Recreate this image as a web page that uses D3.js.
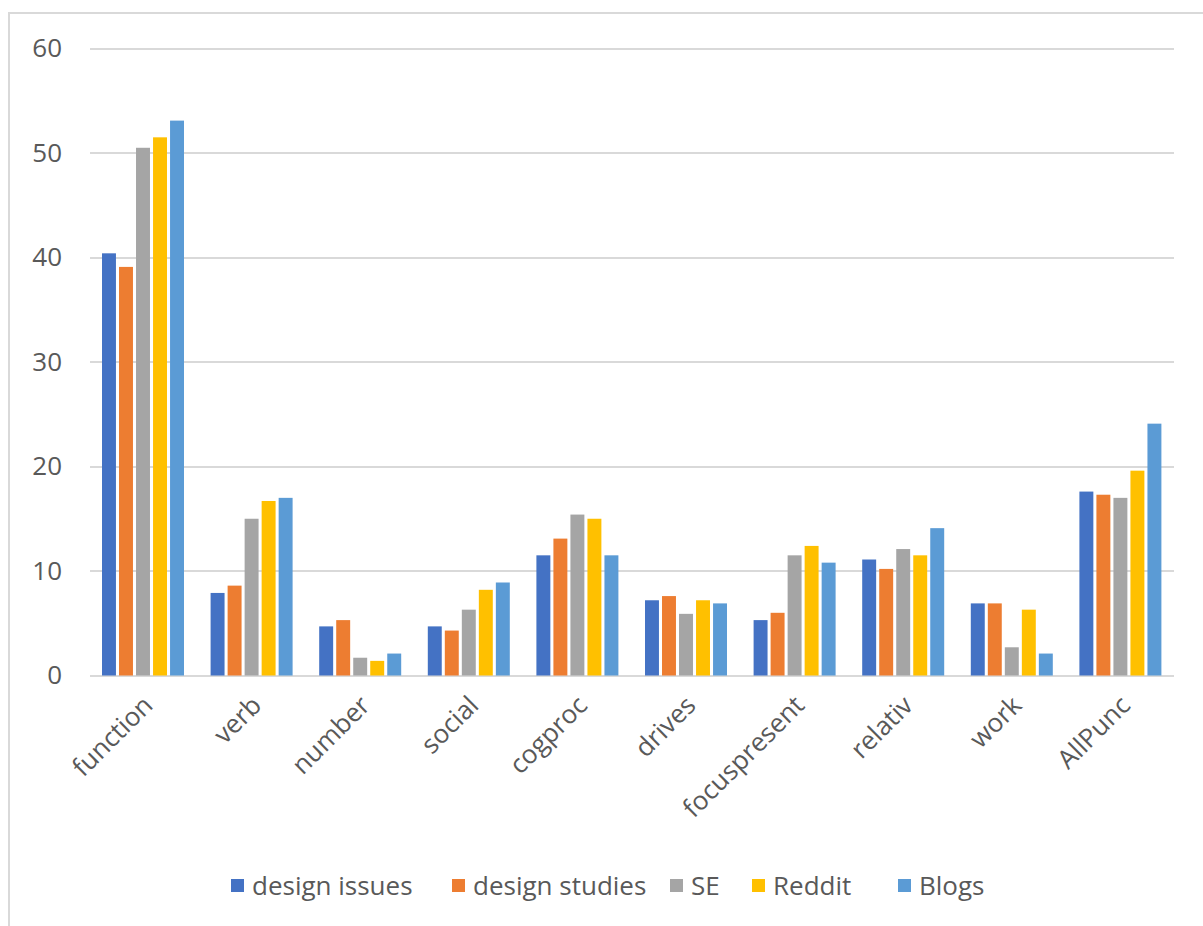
<!DOCTYPE html>
<html><head><meta charset="utf-8">
<script src="https://cdn.jsdelivr.net/npm/d3@7"></script>
<style>html,body{margin:0;padding:0;background:#fff;}svg{display:block;}</style>
</head><body>
<script>
const categories = ["function","verb","number","social","cogproc","drives","focuspresent","relativ","work","AllPunc"];
const seriesNames = ["design issues","design studies","SE","Reddit","Blogs"];
const designIssues  = [40.4, 7.9, 4.7, 4.7, 11.5, 7.2, 5.3, 11.1, 6.9, 17.6];
const designStudies = [39.1, 8.6, 5.3, 4.3, 13.1, 7.6, 6.0, 10.2, 6.9, 17.3];
const se            = [50.5, 15.0, 1.7, 6.3, 15.4, 5.9, 11.5, 12.1, 2.7, 17.0];
const reddit        = [51.5, 16.7, 1.4, 8.2, 15.0, 7.2, 12.4, 11.5, 6.3, 19.6];
const blogs         = [53.1, 17.0, 2.1, 8.9, 11.5, 6.9, 10.8, 14.1, 2.1, 24.1];
const yTicks = [0,10,20,30,40,50,60];
const colors = ["#4472C4","#ED7D31","#A5A5A5","#FFC000","#5B9BD5"];
const allSeries = [designIssues, designStudies, se, reddit, blogs];

const W = 1203, H = 926;
const svg = d3.select("body").append("svg").attr("width", W).attr("height", H);
const font = "'Open Sans', sans-serif";
const txt = "#595959";

// chart border (top & left visible)
svg.append("rect").attr("x", 9).attr("y", 13).attr("width", W).attr("height", H)
  .attr("fill", "none").attr("stroke", "#d9d9d9").attr("stroke-width", 2);

const x0 = d3.scaleBand().domain(categories).range([90, 1176]).padding(0);
const x1 = d3.scaleBand().domain(seriesNames).range([12, 94]).paddingInner(0.18);
const y = d3.scaleLinear().domain([0, 60]).range([675.5, 48.5]);

// gridlines
svg.append("g").selectAll("line").data(yTicks).join("line")
  .attr("x1", 90).attr("x2", 1174)
  .attr("y1", d => Math.round(y(d))).attr("y2", d => Math.round(y(d)))
  .attr("stroke", "#d9d9d9").attr("stroke-width", 2);

// y axis labels
const yAxis = d3.axisLeft(y).tickValues(yTicks).tickSize(0).tickPadding(0);
const yg = svg.append("g").attr("transform", "translate(62,0)").call(yAxis);
yg.select(".domain").remove();
yg.selectAll("text").attr("font-family", font).attr("font-size", 26).attr("fill", txt);

// bars
const groups = svg.append("g").selectAll("g").data(categories).join("g")
  .attr("transform", d => `translate(${x0(d)},0)`);
groups.selectAll("rect").data((c, ci) => seriesNames.map((s, si) => ({s, si, v: allSeries[si][ci]})))
  .join("rect")
  .attr("x", d => x1(d.s)).attr("width", x1.bandwidth())
  .attr("y", d => y(d.v)).attr("height", d => y(0) - y(d.v))
  .attr("fill", d => colors[d.si]);

// x labels
const xAxis = d3.axisBottom(x0).tickSize(0).tickPadding(0);
const xg = svg.append("g").attr("transform", "translate(0,676)").call(xAxis);
xg.select(".domain").remove();
xg.selectAll("text")
  .attr("font-family", font).attr("font-size", 26).attr("fill", txt)
  .attr("text-anchor", "end").attr("dy", null).attr("y", 0)
  .attr("transform", "translate(10,31) rotate(-45)");

// legend
const legendX = [231, 452, 670, 752, 898];
const lg = svg.append("g");
seriesNames.forEach((s, i) => {
  const g = lg.append("g").attr("transform", `translate(${legendX[i]},879)`);
  g.append("rect").attr("width", 13).attr("height", 13).attr("fill", colors[i]);
  g.append("text").attr("x", 21).attr("y", 6.5).attr("dy", "0.35em")
    .attr("font-family", font).attr("font-size", 26).attr("fill", txt).text(s);
});
</script>
</body></html>
